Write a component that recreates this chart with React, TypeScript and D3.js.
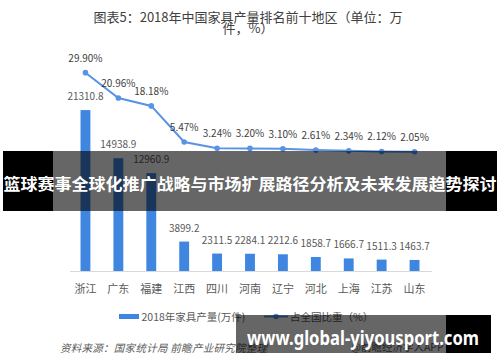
import React, { useEffect, useRef } from "react";
import * as d3 from "d3";

const regions = ["浙江", "广东", "福建", "江西", "四川", "河南", "辽宁", "河北", "上海", "江苏", "山东"];
const output = [21310.8, 14938.9, 12960.9, 3899.2, 2311.5, 2284.1, 2212.6, 1858.7, 1666.7, 1511.3, 1463.7];
const share = [29.9, 20.96, 18.18, 5.47, 3.24, 3.2, 3.1, 2.61, 2.34, 2.12, 2.05];

const FONT = "'Noto Sans CJK SC', 'Noto Sans', sans-serif";
const BAR = "#3f86e1";
const LINE = "#5893e6";

const App: React.FC = () => {
  const ref = useRef<SVGSVGElement>(null);

  useEffect(() => {
    renderChart();
  }, []);

  const renderChart = () => {
    const svg = d3.select(ref.current);
    svg.selectAll("*").remove();

    svg.append("rect").attr("width", 500).attr("height", 362).attr("fill", "#fff");

    // title
    const title = svg
      .append("text")
      .attr("text-anchor", "middle")
      .attr("fill", "#404040")
      .style("font-family", FONT)
      .style("font-size", "13px");
    title.append("tspan").attr("x", 248).attr("y", 22).text("图表5：2018年中国家具产量排名前十地区（单位：万");
    title.append("tspan").attr("x", 248).attr("y", 33).text("件，%）");

    const x = d3
      .scaleBand()
      .domain(regions)
      .range([69, 431])
      .paddingInner(0.7)
      .paddingOuter(0.35);

    const yBar = d3.scaleLinear().domain([0, 25000]).range([271, 82.25]);
    const yLine = d3.scaleLinear().domain([0, 35]).range([157.5, 58.2]);
    const cx = (d: string) => (x(d) || 0) + x.bandwidth() / 2;

    // baseline
    svg
      .append("line")
      .attr("x1", 70)
      .attr("x2", 432)
      .attr("y1", yBar(0) + 0.5)
      .attr("y2", yBar(0) + 0.5)
      .attr("stroke", "#d9d9d9")
      .attr("stroke-width", 1);

    // bars
    svg
      .selectAll("rect.bar")
      .data(output)
      .enter()
      .append("rect")
      .attr("class", "bar")
      .attr("x", (d, i) => x(regions[i]) || 0)
      .attr("y", (d) => yBar(d))
      .attr("width", x.bandwidth())
      .attr("height", (d) => yBar(0) - yBar(d))
      .attr("fill", BAR);

    svg
      .selectAll("text.barlabel")
      .data(output)
      .enter()
      .append("text")
      .attr("class", "barlabel")
      .attr("x", (d, i) => cx(regions[i]))
      .attr("y", (d) => yBar(d) - 10)
      .attr("text-anchor", "middle")
      .attr("fill", "#595959")
      .style("font-family", FONT)
      .style("font-size", "10px")
      .text((d) => d.toFixed(1));

    // category labels
    svg
      .selectAll("text.cat")
      .data(regions)
      .enter()
      .append("text")
      .attr("class", "cat")
      .attr("x", (d) => cx(d))
      .attr("y", 293)
      .attr("text-anchor", "middle")
      .attr("fill", "#595959")
      .style("font-family", FONT)
      .style("font-size", "11px")
      .text((d) => d);

    // share line
    const line = d3
      .line<number>()
      .x((d, i) => cx(regions[i]))
      .y((d) => yLine(d));

    svg
      .append("path")
      .datum(share)
      .attr("fill", "none")
      .attr("stroke", LINE)
      .attr("stroke-width", 2)
      .attr("d", line);

    svg
      .selectAll("circle.pt")
      .data(share)
      .enter()
      .append("circle")
      .attr("class", "pt")
      .attr("cx", (d, i) => cx(regions[i]))
      .attr("cy", (d) => yLine(d))
      .attr("r", 2.8)
      .attr("fill", LINE);

    svg
      .selectAll("text.pct")
      .data(share)
      .enter()
      .append("text")
      .attr("class", "pct")
      .attr("x", (d, i) => cx(regions[i]))
      .attr("y", (d) => yLine(d) - 11)
      .attr("text-anchor", "middle")
      .attr("fill", "#404040")
      .style("font-family", FONT)
      .style("font-size", "10px")
      .text((d) => d.toFixed(2) + "%");

    // legend
    svg.append("rect").attr("x", 119).attr("y", 314).attr("width", 20).attr("height", 5).attr("fill", BAR);
    svg
      .append("text")
      .attr("x", 141.5)
      .attr("y", 320.5)
      .attr("fill", "#595959")
      .style("font-family", FONT)
      .style("font-size", "10.5px")
      .text("2018年家具产量(万件)");
    svg
      .append("line")
      .attr("x1", 264)
      .attr("x2", 288)
      .attr("y1", 316.5)
      .attr("y2", 316.5)
      .attr("stroke", LINE)
      .attr("stroke-width", 2);
    svg.append("circle").attr("cx", 276).attr("cy", 316.5).attr("r", 2.8).attr("fill", LINE);
    svg
      .append("text")
      .attr("x", 290)
      .attr("y", 320.5)
      .attr("fill", "#595959")
      .style("font-family", FONT)
      .style("font-size", "10.5px")
      .text("占全国比重（%）");

    // source notes
    svg
      .append("text")
      .attr("x", 60)
      .attr("y", 352)
      .attr("fill", "#595959")
      .style("font-family", FONT)
      .style("font-size", "10.5px")
      .style("font-style", "italic")
      .attr("textLength", 207)
      .text("资料来源：国家统计局 前瞻产业研究院整理");
    svg
      .append("text")
      .attr("x", 351)
      .attr("y", 351)
      .attr("fill", "#595959")
      .style("font-family", FONT)
      .style("font-size", "10.5px")
      .text("@前瞻经济学人APP");

    // top banner
    svg.append("rect").attr("x", 3).attr("y", 151).attr("width", 50).attr("height", 60).attr("fill", "#000");
    svg.append("rect").attr("x", 446).attr("y", 151).attr("width", 51).attr("height", 60).attr("fill", "#000");
    svg
      .append("rect")
      .attr("x", 53)
      .attr("y", 151)
      .attr("width", 393)
      .attr("height", 60)
      .attr("fill", "#000")
      .attr("fill-opacity", 0.6);
    svg
      .append("text")
      .attr("x", 3.5)
      .attr("y", 183)
      .attr("dominant-baseline", "central")
      .attr("fill", "#fff")
      .style("font-family", FONT)
      .style("font-size", "16px")
      .style("font-weight", "bold")
      .attr("textLength", 493)
      .attr("lengthAdjust", "spacingAndGlyphs")
      .text("篮球赛事全球化推广战略与市场扩展路径分析及未来发展趋势探讨");

    // bottom banner
    svg
      .append("rect")
      .attr("x", 236)
      .attr("y", 315)
      .attr("width", 210)
      .attr("height", 38)
      .attr("fill", "#000")
      .attr("fill-opacity", 0.6);
    svg.append("rect").attr("x", 446).attr("y", 315).attr("width", 45).attr("height", 38).attr("fill", "#000");
    svg
      .append("text")
      .attr("x", 247)
      .attr("y", 337)
      .attr("dominant-baseline", "central")
      .attr("fill", "#fff")
      .style("font-family", "'Noto Sans', 'DejaVu Sans', sans-serif")
      .style("font-size", "20px")
      .style("font-weight", "bold")
      .attr("textLength", 232)
      .attr("lengthAdjust", "spacingAndGlyphs")
      .text("www.global-yiyousport.com");
  };

  return (
    <svg
      ref={ref}
      width={500}
      height={362}
      style={{ position: "absolute", left: 0, top: 0, display: "block" }}
    ></svg>
  );
};

export default App;
